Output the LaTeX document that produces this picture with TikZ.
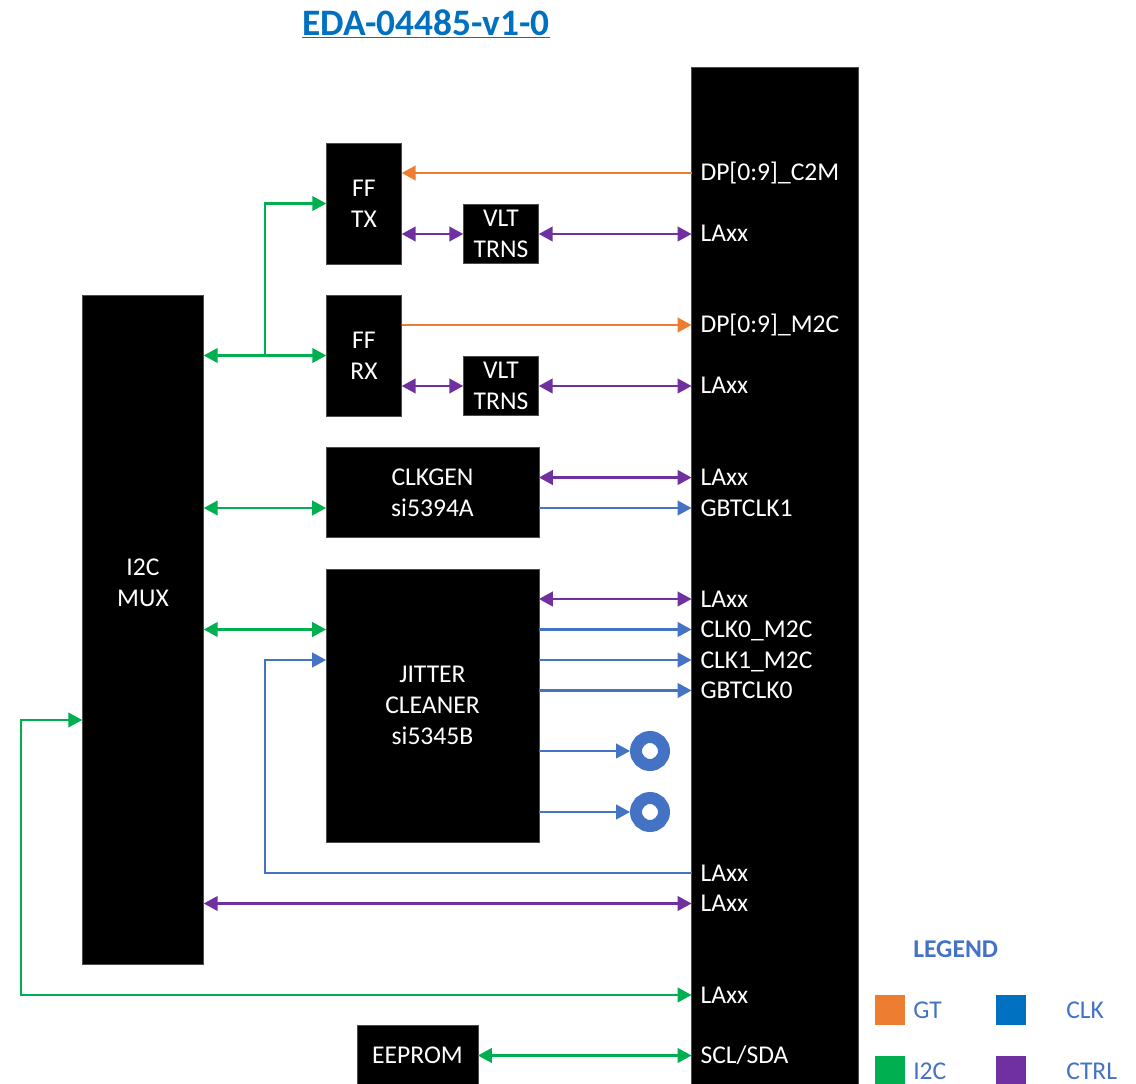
\documentclass[tikz,border=0pt]{standalone}
\usepackage{fontspec}
\setmainfont{Carlito}
\usetikzlibrary{arrows.meta}
\definecolor{cgt}{HTML}{ED7D31}
\definecolor{cclk}{HTML}{4472C4}
\definecolor{cbox}{HTML}{0070C0}
\definecolor{ci2c}{HTML}{00B050}
\definecolor{cctrl}{HTML}{7030A0}
\tikzset{
  blk/.style={draw=black!70!white,line width=0.4pt,fill=black,text=white,align=center,inner sep=0pt,outer sep=0pt,
    font=\fontsize{19.2}{23}\selectfont},
  blktxt/.style={text=white,align=center,inner sep=0pt,font=\fontsize{19.2}{23}\selectfont},
  pin/.style={anchor=west,text=white,inner sep=0pt,outer sep=0pt,text height=12pt,text depth=0pt,
    font=\fontsize{19.2}{23}\selectfont},
  lnk/.style={line width=1.7pt,arrows={-Triangle[length=10.5pt,width=11pt]}},
  both/.style={line width=1.7pt,arrows={Triangle[length=10.5pt,width=11pt]-Triangle[length=10.5pt,width=11pt]}},
  ring/.style={circle,draw=cclk,line width=9pt,fill=white,minimum size=21pt,inner sep=0pt},
  swatch/.style={minimum size=22.5pt,inner sep=0pt,outer sep=0pt},
  legtxt/.style={anchor=west,text=cclk,inner sep=0pt,text height=12pt,text depth=0pt,font=\fontsize{19.2}{23}\selectfont},
}
\begin{document}
\begin{tikzpicture}[x=0.75pt,y=-0.75pt]
\useasboundingbox (0,0) rectangle (1136,1084);
% blocks
\node[blk,minimum width=125.2pt,minimum height=763pt] (fmc) at (775,575.5) {};
\node[blk,minimum width=91.1pt,minimum height=501.6pt] (mux) at (143,629.5) {};
\node[blktxt] (muxlabel) at (143,583) {I2C\\MUX};
\node[blk,minimum width=56.6pt,minimum height=90.6pt] (fftx) at (364,203.5) {FF\\TX};
\node[blk,minimum width=56.6pt,minimum height=44.6pt] (vlta) at (501,234) {VLT\\TRNS};
\node[blk,minimum width=56.6pt,minimum height=90.6pt] (ffrx) at (364,355.5) {FF\\RX};
\node[blk,minimum width=56.6pt,minimum height=44.6pt] (vltb) at (501,386) {VLT\\TRNS};
\node[blk,minimum width=159.6pt,minimum height=67.6pt] (clkgen) at (432.5,492.5) {CLKGEN\\si5394A};
\node[blk,minimum width=159.6pt,minimum height=204.6pt] (jitter) at (432.5,705.5) {JITTER\\CLEANER\\si5345B};
\node[blk,minimum width=90.6pt,minimum height=45pt] (eeprom) at (417.5,1055.5) {EEPROM};
\node[ring] (ringa) at (650,751) {};
\node[ring] (ringb) at (650,812) {};
% pin labels
\node[pin] (p1) at (700.5,173) {DP[0:9]\_C2M};
\node[pin] (p2) at (700.5,234) {LAxx};
\node[pin] (p3) at (700.5,325) {DP[0:9]\_M2C};
\node[pin] (p4) at (700.5,386) {LAxx};
\node[pin] (p5) at (700.5,477.5) {LAxx};
\node[pin] (p6) at (700.5,508) {GBTCLK1};
\node[pin] (p7) at (700.5,599) {LAxx};
\node[pin] (p8) at (700.5,629.5) {CLK0\_M2C};
\node[pin] (p9) at (700.5,660) {CLK1\_M2C};
\node[pin] (p10) at (700.5,690.5) {GBTCLK0};
\node[pin] (p11) at (700.5,873) {LAxx};
\node[pin] (p12) at (700.5,903.5) {LAxx};
\node[pin] (p13) at (700.5,995) {LAxx};
\node[pin] (p14) at (700.5,1055.5) {SCL/SDA};
% title
\node[text=cbox,inner sep=0pt,font=\fontsize{28}{32}\selectfont\bfseries] (title) at (426,24) {\underline{EDA-04485-v1-0}};
% free corners
\coordinate (ca) at (265,355.5);
\coordinate (cb) at (265,203.5);
\coordinate (cc) at (265,873);
\coordinate (cd) at (265,660);
\coordinate (ce) at (21,720);
\coordinate (cf) at (21,995);
% orange
\draw[lnk,cgt] (p1 -| fmc.west) -- (p1 -| fftx.east);
\draw[lnk,cgt] (p3 -| ffrx.east) -- (p3 -| fmc.west);
% purple
\draw[both,cctrl] (fftx.east |- vlta.west) -- (vlta.west);
\draw[both,cctrl] (vlta.east) -- (vlta.east -| fmc.west);
\draw[both,cctrl] (ffrx.east |- vltb.west) -- (vltb.west);
\draw[both,cctrl] (vltb.east) -- (vltb.east -| fmc.west);
\draw[both,cctrl] (p5 -| clkgen.east) -- (p5 -| fmc.west);
\draw[both,cctrl] (p7 -| jitter.east) -- (p7 -| fmc.west);
\draw[both,cctrl] (p12 -| mux.east) -- (p12 -| fmc.west);
% green
\draw[both,ci2c] (mux.east |- ffrx.west) -- (ffrx.west);
\draw[lnk,ci2c] (ca) -- (cb) -- (fftx.west);
\draw[both,ci2c] (p6 -| mux.east) -- (p6 -| clkgen.west);
\draw[both,ci2c] (p8 -| mux.east) -- (p8 -| jitter.west);
\draw[both,ci2c] (ce -| mux.west) -- (ce) -- (cf) -- (cf -| fmc.west);
\draw[both,ci2c] (eeprom.east) -- (eeprom.east -| fmc.west);
% blue
\draw[lnk,cclk] (p6 -| clkgen.east) -- (p6 -| fmc.west);
\draw[lnk,cclk] (p8 -| jitter.east) -- (p8 -| fmc.west);
\draw[lnk,cclk] (p9 -| jitter.east) -- (p9 -| fmc.west);
\draw[lnk,cclk] (p10 -| jitter.east) -- (p10 -| fmc.west);
\draw[lnk,cclk] (ringa.west -| jitter.east) -- (ringa.west);
\draw[lnk,cclk] (ringb.west -| jitter.east) -- (ringb.west);
\draw[lnk,cclk] (p11 -| fmc.west) -- (cc) -- (cd) -- (cd -| jitter.west);
% legend
\node[anchor=west,text=cclk,inner sep=0pt,font=\fontsize{19.2}{23}\selectfont\bfseries] (leg) at (913,949) {LEGEND};
\node[swatch,fill=cgt] (sgt) at (889.5,1010) {};
\node[swatch,fill=cbox] (sclk) at (1011,1010) {};
\node[swatch,fill=ci2c] (si2c) at (889.5,1071) {};
\node[swatch,fill=cctrl] (sctrl) at (1011,1071) {};
\node[legtxt] (tgt) at (913,1010) {GT};
\node[legtxt] (tclk) at (1066,1010) {CLK};
\node[legtxt] (ti2c) at (913,1071) {I2C};
\node[legtxt] (tctrl) at (1066,1071) {CTRL};
\end{tikzpicture}
\end{document}
